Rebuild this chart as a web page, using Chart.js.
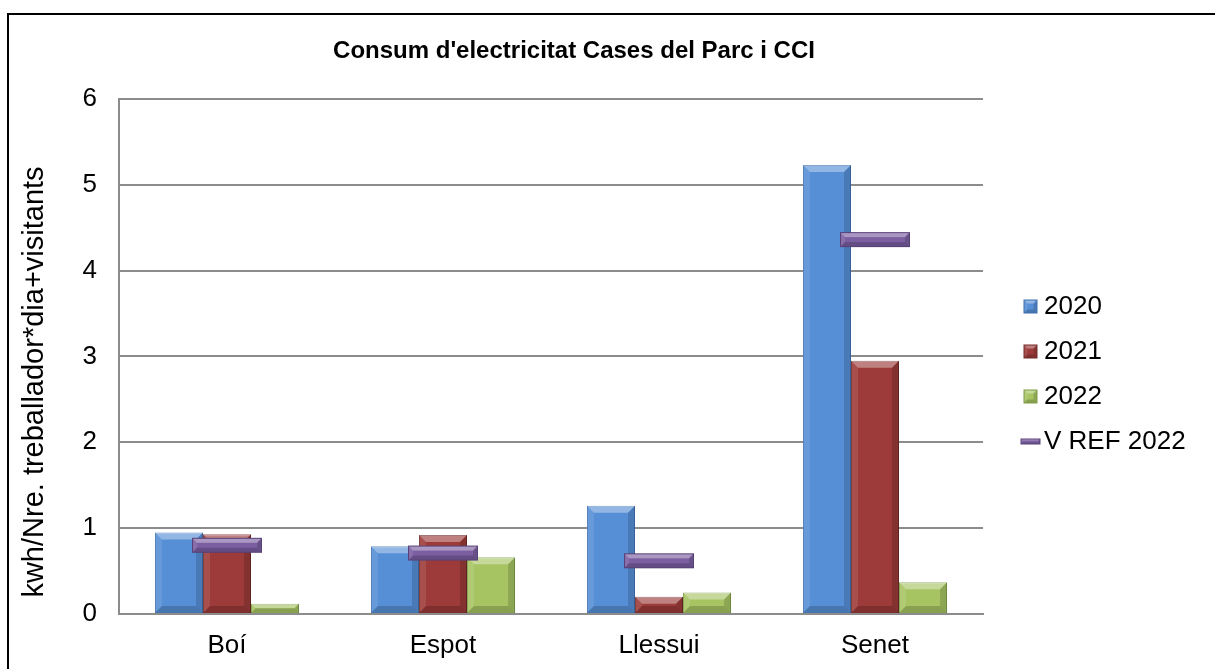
<!DOCTYPE html>
<html><head><meta charset="utf-8">
<script src="https://cdn.jsdelivr.net/npm/chart.js@4.4.1/dist/chart.umd.min.js"></script>
<style>
html,body{margin:0;padding:0;background:#fff;overflow:hidden}
#wrap{position:relative;width:1215px;height:669px;overflow:hidden}
#frame{position:absolute;left:7px;top:13px;width:1300px;height:800px;border-left:2px solid #000;border-top:2px solid #000;box-sizing:border-box}
#c{position:absolute;left:0;top:0}
</style></head><body>
<div id="wrap"><div id="frame"></div><canvas id="c" width="1215" height="669"></canvas></div>
<script>
const categories = ['Boí', 'Espot', 'Llessui', 'Senet'];
const values2020 = [0.95, 0.79, 1.26, 5.23];
const values2021 = [0.93, 0.92, 0.20, 2.95];
const values2022 = [0.12, 0.66, 0.25, 0.37];
const vRef2022 = [0.80, 0.71, 0.62, 4.36];
const yTicks = [0, 1, 2, 3, 4, 5, 6];
const seriesNames = ['2020', '2021', '2022', 'V REF 2022'];
const chartTitle = "Consum d'electricitat Cases del Parc i CCI";
const yTitle = 'kwh/Nre. treballador*dia+visitants';

const FONT = '"Liberation Sans", Arial, sans-serif';
const colors = {
  '2020': {face: '#568fd6', edge: '#3d6fae'},
  '2021': {face: '#9c3b39', edge: '#722a29'},
  '2022': {face: '#a6c462', edge: '#7d9a44'},
  'V REF 2022': {face: '#7b5fa1', edge: '#584178'}
};

function bevel(ctx, x, y, w, h, b) {
  if (h <= 0 || w <= 0) return;
  b = Math.min(b, h / 2, w / 2);
  ctx.save();
  ctx.fillStyle = 'rgba(255,255,255,0.36)';
  ctx.beginPath(); ctx.moveTo(x, y); ctx.lineTo(x + w, y); ctx.lineTo(x + w - b, y + b); ctx.lineTo(x + b, y + b); ctx.closePath(); ctx.fill();
  ctx.fillStyle = 'rgba(255,255,255,0.10)';
  ctx.beginPath(); ctx.moveTo(x, y); ctx.lineTo(x + b, y + b); ctx.lineTo(x + b, y + h - b); ctx.lineTo(x, y + h); ctx.closePath(); ctx.fill();
  ctx.fillStyle = 'rgba(0,0,0,0.15)';
  ctx.beginPath(); ctx.moveTo(x + w, y); ctx.lineTo(x + w - b, y + b); ctx.lineTo(x + w - b, y + h - b); ctx.lineTo(x + w, y + h); ctx.closePath(); ctx.fill();
  ctx.fillStyle = 'rgba(0,0,0,0.18)';
  ctx.beginPath(); ctx.moveTo(x, y + h); ctx.lineTo(x + b, y + h - b); ctx.lineTo(x + w - b, y + h - b); ctx.lineTo(x + w, y + h); ctx.closePath(); ctx.fill();
  ctx.restore();
}

function makeShape(w, h, name, b) {
  const cv = document.createElement('canvas');
  cv.width = w + 2; cv.height = h + 2;
  const ctx = cv.getContext('2d');
  ctx.fillStyle = colors[name].face;
  ctx.fillRect(1, 1, w, h);
  bevel(ctx, 1, 1, w, h, b);
  ctx.strokeStyle = colors[name].edge;
  ctx.lineWidth = 1;
  ctx.strokeRect(1.5, 1.5, w - 1, h - 1);
  return cv;
}

const refMarker = makeShape(70, 15, 'V REF 2022', 5);
const legendMarkers = {
  '2020': makeShape(14, 14, '2020', 4),
  '2021': makeShape(14, 14, '2021', 4),
  '2022': makeShape(14, 14, '2022', 4),
  'V REF 2022': makeShape(20, 6, 'V REF 2022', 2)
};

const seriesData = [values2020, values2021, values2022];
const datasets = seriesData.map((vals, i) => ({
  type: 'bar',
  label: seriesNames[i],
  data: vals,
  backgroundColor: colors[seriesNames[i]].face,
  borderColor: colors[seriesNames[i]].edge,
  borderWidth: 1,
  categoryPercentage: 0.667,
  barPercentage: 1.0,
  order: 1
}));
datasets.push({
  type: 'line',
  label: seriesNames[3],
  data: vRef2022,
  showLine: false,
  pointStyle: refMarker,
  pointRadius: 10,
  pointHoverRadius: 10,
  backgroundColor: colors['V REF 2022'].face,
  borderColor: colors['V REF 2022'].edge,
  order: 0
});

const TARGET = {left: 119, right: 983, top: 99, bottom: 614, legendLeft: 1011, legendCenterY: 374, titleCenter: 574};

const bevelPlugin = {
  id: 'bevelPlugin',
  afterDatasetDraw(chart, args) {
    const meta = args.meta;
    if (meta.type !== 'bar') return;
    const ctx = chart.ctx;
    ctx.save();
    meta.data.forEach(el => {
      const p = el.getProps(['x', 'y', 'base', 'width'], true);
      bevel(ctx, p.x - p.width / 2, p.y, p.width, p.base - p.y, 7);
    });
    ctx.restore();
  }
};

const yTitlePlugin = {
  id: 'yTitlePlugin',
  afterDraw(chart) {
    const ctx = chart.ctx;
    ctx.save();
    ctx.translate(35, 382);
    ctx.rotate(-Math.PI / 2);
    ctx.font = '29px ' + FONT;
    ctx.fillStyle = '#000';
    ctx.textAlign = 'center';
    ctx.textBaseline = 'middle';
    ctx.fillText(yTitle, 0, 0);
    ctx.restore();
  }
};

const shiftPlugin = {
  id: 'shiftPlugin',
  afterLayout(chart) {
    const l = chart.legend;
    if (l) {
      const dx = TARGET.legendLeft - l.left; l.left += dx; l.right += dx;
      const dy = TARGET.legendCenterY - (l.top + l.bottom) / 2; l.top += dy; l.bottom += dy;
    }
    const t = chart.titleBlock;
    if (t) { const half = Math.min(TARGET.titleCenter, 1215 - TARGET.titleCenter); t.left = TARGET.titleCenter - half; t.right = TARGET.titleCenter + half; t.width = t.right - t.left; }
  }
};

const chart = new Chart(document.getElementById('c'), {
  data: {labels: categories, datasets},
  options: {
    responsive: false,
    animation: false,
    devicePixelRatio: 1,
    layout: {padding: {left: 0, right: 30, top: 0, bottom: 0}},
    plugins: {
      title: {
        display: true,
        text: chartTitle,
        color: '#000',
        font: {family: FONT, size: 24, weight: 'bold', lineHeight: 1.2},
        padding: {top: 37, bottom: 33}
      },
      legend: {
        position: 'right',
        align: 'center',
        labels: {
          color: '#000',
          font: {family: FONT, size: 26},
          usePointStyle: true,
          boxWidth: 1,
          boxHeight: 14,
          padding: 19,
          generateLabels(ch) {
            return ch.data.datasets.map((ds, i) => ({
              text: ds.label,
              fillStyle: ds.backgroundColor,
              strokeStyle: ds.borderColor,
              lineWidth: 0,
              hidden: false,
              datasetIndex: i,
              pointStyle: legendMarkers[ds.label],
              fontColor: '#000'
            }));
          }
        }
      },
      tooltip: {enabled: false}
    },
    scales: {
      x: {
        grid: {display: false, drawTicks: false},
        border: {display: true, color: '#8c8c8c', width: 2},
        ticks: {color: '#000', font: {family: FONT, size: 26}, padding: 16},
        afterFit(s) { s.height = 669 - TARGET.bottom; }
      },
      y: {
        min: 0,
        max: 6,
        afterBuildTicks(s) { s.ticks = yTicks.map(v => ({value: v})); },
        grid: {color: '#8c8c8c', lineWidth: 2, drawTicks: false},
        border: {display: true, color: '#8c8c8c', width: 2},
        ticks: {color: '#000', font: {family: FONT, size: 26}, padding: 22},
        afterFit(s) { s.width = TARGET.left; }
      }
    }
  },
  plugins: [bevelPlugin, yTitlePlugin, shiftPlugin]
});

const lw = chart.legend.width;
chart.options.layout.padding.right = Math.max(0, 1215 - TARGET.right - lw);
chart.update('none');
</script>
</body></html>
